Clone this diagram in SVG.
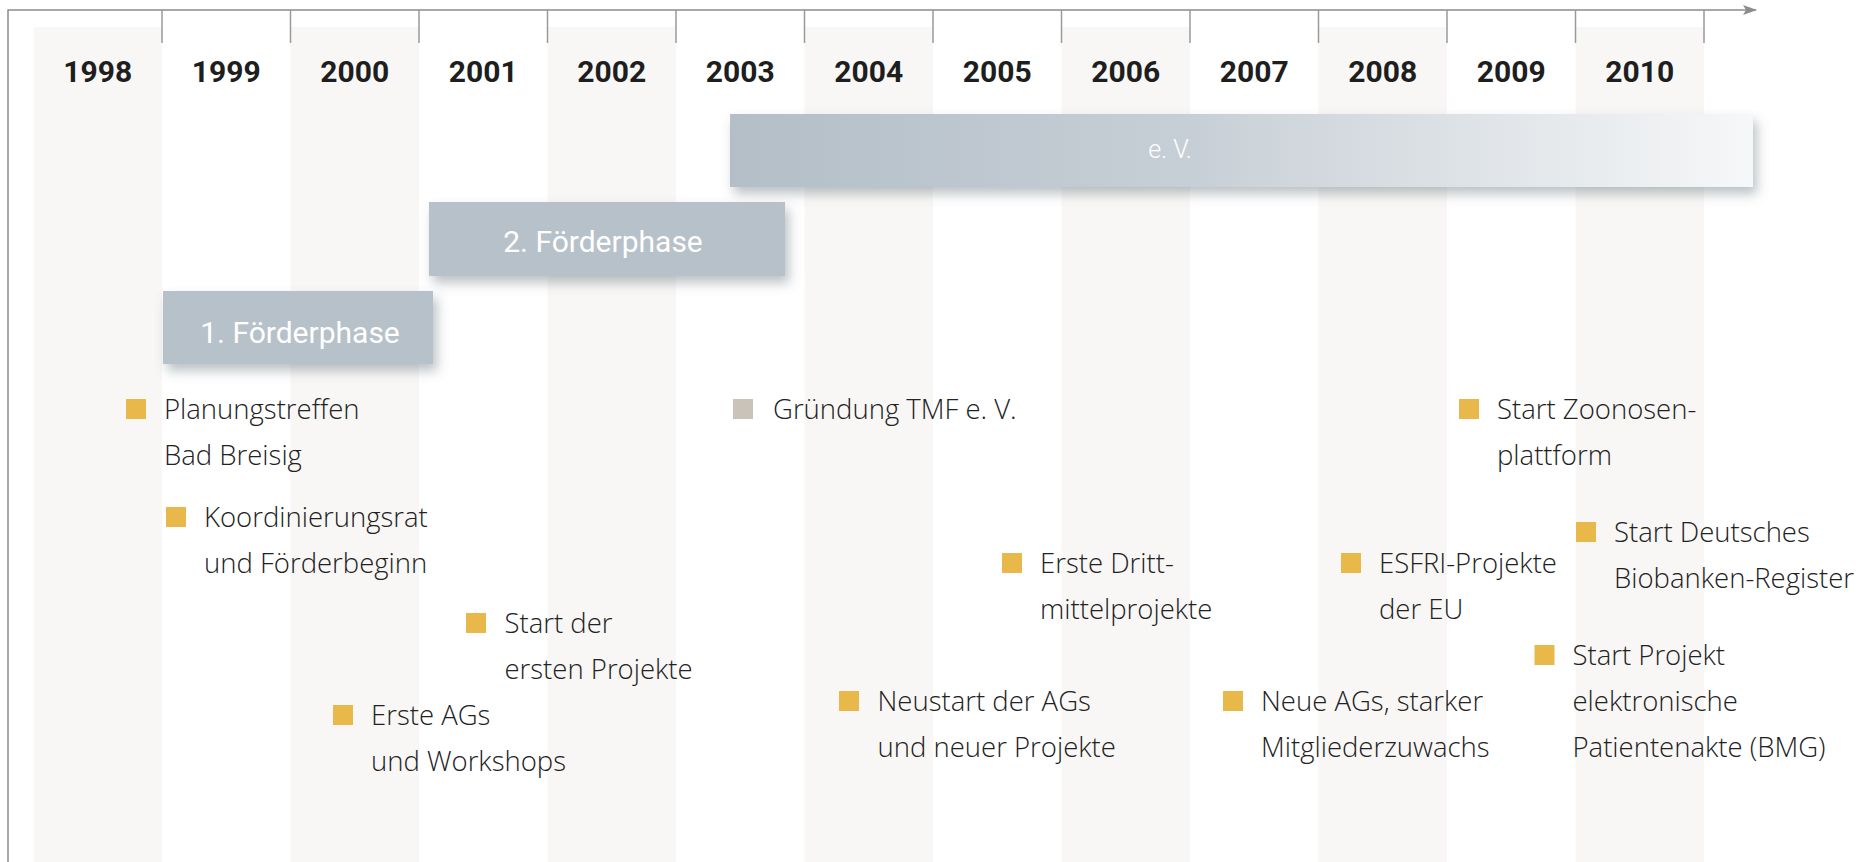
<svg xmlns="http://www.w3.org/2000/svg" width="1864" height="862" viewBox="0 0 1864 862">
  <defs>
    <linearGradient id="evFill" x1="0" y1="0" x2="1" y2="0">
      <stop offset="0" stop-color="#b3bec7"/>
      <stop offset="0.45" stop-color="#c7cfd6"/>
      <stop offset="1" stop-color="#f6f7f8"/>
    </linearGradient>
    <filter id="barShadow" x="-5%" y="-20%" width="115%" height="160%">
      <feDropShadow dx="4" dy="7" stdDeviation="6" flood-color="#5f6b75" flood-opacity="0.42"/>
    </filter>
    <marker id="axisArrow" viewBox="0 0 14 10" refX="13" refY="5" markerWidth="14" markerHeight="10" markerUnits="userSpaceOnUse" orient="auto">
      <path d="M0,0 L14,5 L0,10 L3,5 Z" fill="#8c8c8c"/>
    </marker>
  </defs>
  <style>
    .band { fill: #f8f7f5; }
    .tick { stroke: #9a9a9a; stroke-width: 1.5; }
    .axis { fill: none; stroke: #8c8c8c; stroke-width: 1.5; }
    .year { font-family: Roboto, "DejaVu Sans Condensed", sans-serif; font-weight: 700; font-size: 30px; fill: #1e1e1e; text-anchor: middle; }
    .bar { filter: url(#barShadow); }
    .phase { fill: #b7c1c9; }
    .barLabel { font-family: Roboto, "DejaVu Sans Condensed", sans-serif; font-weight: 400; font-size: 30px; fill: #ffffff; text-anchor: middle; }
    .evLabel { font-family: Roboto, "DejaVu Sans Condensed", sans-serif; font-weight: 300; font-size: 25px; fill: #ffffff; text-anchor: middle; }
    .ev { font-family: "Open Sans", "Noto Sans", sans-serif; font-weight: 300; font-size: 27.5px; fill: #222222; }
    .dot { fill: #e8b84a; }
    .dotGray { fill: #c9c3b9; }
  </style>

  <rect width="1864" height="862" fill="#ffffff"/>

  <!-- alternating year bands -->
  <g id="bands">
    <rect class="band" x="33.5" y="27" width="128.5" height="835"/>
    <rect class="band" x="290.5" y="27" width="128.5" height="835"/>
    <rect class="band" x="547.5" y="27" width="128.5" height="835"/>
    <rect class="band" x="804.5" y="27" width="128.5" height="835"/>
    <rect class="band" x="1061.5" y="27" width="128.5" height="835"/>
    <rect class="band" x="1318.5" y="27" width="128.5" height="835"/>
    <rect class="band" x="1575.5" y="27" width="128.5" height="835"/>
  </g>

  <!-- time axis with frame and year ticks -->
  <g id="connectors">
    <path class="axis" d="M8,862 V10 H1756" marker-end="url(#axisArrow)"/>
    <line class="tick" x1="162" y1="10" x2="162" y2="43"/>
    <line class="tick" x1="290.5" y1="10" x2="290.5" y2="43"/>
    <line class="tick" x1="419" y1="10" x2="419" y2="43"/>
    <line class="tick" x1="547.5" y1="10" x2="547.5" y2="43"/>
    <line class="tick" x1="676" y1="10" x2="676" y2="43"/>
    <line class="tick" x1="804.5" y1="10" x2="804.5" y2="43"/>
    <line class="tick" x1="933" y1="10" x2="933" y2="43"/>
    <line class="tick" x1="1061.5" y1="10" x2="1061.5" y2="43"/>
    <line class="tick" x1="1190" y1="10" x2="1190" y2="43"/>
    <line class="tick" x1="1318.5" y1="10" x2="1318.5" y2="43"/>
    <line class="tick" x1="1447" y1="10" x2="1447" y2="43"/>
    <line class="tick" x1="1575.5" y1="10" x2="1575.5" y2="43"/>
    <line class="tick" x1="1704" y1="10" x2="1704" y2="43"/>
  </g>

  <!-- year labels -->
  <g id="years">
    <text class="year" x="97.75" y="82">1998</text>
    <text class="year" x="226.25" y="82">1999</text>
    <text class="year" x="354.75" y="82">2000</text>
    <text class="year" x="483.25" y="82">2001</text>
    <text class="year" x="611.75" y="82">2002</text>
    <text class="year" x="740.25" y="82">2003</text>
    <text class="year" x="868.75" y="82">2004</text>
    <text class="year" x="997.25" y="82">2005</text>
    <text class="year" x="1125.75" y="82">2006</text>
    <text class="year" x="1254.25" y="82">2007</text>
    <text class="year" x="1382.75" y="82">2008</text>
    <text class="year" x="1511.25" y="82">2009</text>
    <text class="year" x="1639.75" y="82">2010</text>
  </g>

  <!-- period bars -->
  <g id="bar-ev">
    <rect class="bar" x="730" y="114" width="1023" height="73" fill="url(#evFill)"/>
    <text class="evLabel" x="1170" y="158">e. V.</text>
  </g>
  <g id="bar-phase2">
    <rect class="bar phase" x="429" y="202" width="356" height="74"/>
    <text class="barLabel" x="603" y="252">2. Förderphase</text>
  </g>
  <g id="bar-phase1">
    <rect class="bar phase" x="163" y="291" width="270" height="73"/>
    <text class="barLabel" x="300" y="343">1. Förderphase</text>
  </g>

  <!-- events -->
  <g id="ev-planungstreffen">
    <rect class="dot" x="126" y="399" width="20" height="20"/>
    <text class="ev" x="164" y="419">Planungstreffen</text>
    <text class="ev" x="164" y="465">Bad Breisig</text>
  </g>
  <g id="ev-koordinierungsrat">
    <rect class="dot" x="166" y="507" width="20" height="20"/>
    <text class="ev" x="204" y="527">Koordinierungsrat</text>
    <text class="ev" x="204" y="573">und Förderbeginn</text>
  </g>
  <g id="ev-start-projekte">
    <rect class="dot" x="466" y="613" width="20" height="20"/>
    <text class="ev" x="504.5" y="633">Start der</text>
    <text class="ev" x="504.5" y="679">ersten Projekte</text>
  </g>
  <g id="ev-erste-ags">
    <rect class="dot" x="333" y="705" width="20" height="20"/>
    <text class="ev" x="371" y="725">Erste AGs</text>
    <text class="ev" x="371" y="771">und Workshops</text>
  </g>
  <g id="ev-gruendung">
    <rect class="dotGray" x="733" y="399" width="20" height="20"/>
    <text class="ev" x="773" y="419">Gründung TMF e. V.</text>
  </g>
  <g id="ev-drittmittel">
    <rect class="dot" x="1002" y="553" width="20" height="20"/>
    <text class="ev" x="1040" y="573">Erste Dritt-</text>
    <text class="ev" x="1040" y="619">mittelprojekte</text>
  </g>
  <g id="ev-neustart">
    <rect class="dot" x="839" y="691" width="20" height="20"/>
    <text class="ev" x="877.5" y="711">Neustart der AGs</text>
    <text class="ev" x="877.5" y="757">und neuer Projekte</text>
  </g>
  <g id="ev-esfri">
    <rect class="dot" x="1341" y="553" width="20" height="20"/>
    <text class="ev" x="1379" y="573">ESFRI-Projekte</text>
    <text class="ev" x="1379" y="619">der EU</text>
  </g>
  <g id="ev-neue-ags">
    <rect class="dot" x="1223" y="691" width="20" height="20"/>
    <text class="ev" x="1261" y="711">Neue AGs, starker</text>
    <text class="ev" x="1261" y="757">Mitgliederzuwachs</text>
  </g>
  <g id="ev-zoonosen">
    <rect class="dot" x="1459" y="399" width="20" height="20"/>
    <text class="ev" x="1497" y="419">Start Zoonosen-</text>
    <text class="ev" x="1497" y="465">plattform</text>
  </g>
  <g id="ev-biobanken">
    <rect class="dot" x="1576" y="522" width="20" height="20"/>
    <text class="ev" x="1614" y="542">Start Deutsches</text>
    <text class="ev" x="1614" y="588">Biobanken-Register</text>
  </g>
  <g id="ev-patientenakte">
    <rect class="dot" x="1534.5" y="645" width="20" height="20"/>
    <text class="ev" x="1572.5" y="665">Start Projekt</text>
    <text class="ev" x="1572.5" y="711">elektronische</text>
    <text class="ev" x="1572.5" y="757">Patientenakte (BMG)</text>
  </g>
</svg>
